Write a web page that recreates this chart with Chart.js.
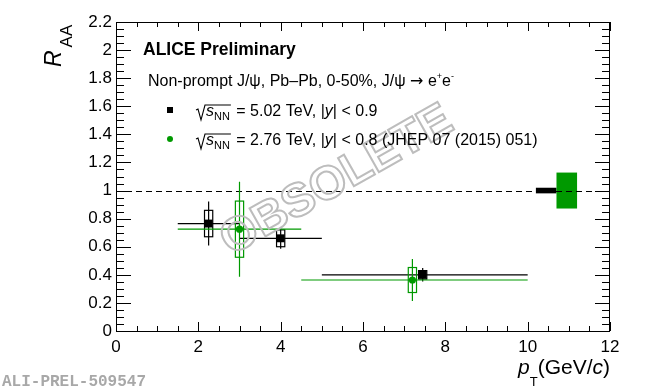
<!DOCTYPE html>
<html>
<head>
<meta charset="utf-8">
<script src="https://cdn.jsdelivr.net/npm/chart.js@4.4.1/dist/chart.umd.min.js"></script>
<style>
  body { margin: 0; background: #fff; }
  #c { display: block; }
</style>
</head>
<body>
<canvas id="c" width="650" height="389"></canvas>
<script>
// 5.02 TeV points (black)
const ptNew = [2.25, 4.0, 7.45];
const ptNewLow = [1.5, 3.0, 5.0];
const ptNewHigh = [3.0, 5.0, 10.0];
const raaNew = [0.765, 0.66, 0.40];
const statNew = [0.157, 0.075, 0.048];
const systNew = [0.094, 0.06, 0.03];

// 2.76 TeV points (green)
const ptOld = [3.0, 7.2];
const ptOldLow = [1.5, 4.5];
const ptOldHigh = [4.5, 10.0];
const raaOld = [0.725, 0.363];
const statOld = [0.338, 0.15];
const systOld = [0.2, 0.089];

// global uncertainties at R_AA = 1
const globalNew = 0.02;
const globalOld = 0.128;

const xRange = [0, 12];
const yRange = [0, 2.2];

const GREEN = '#009900';
const FONT = '"Liberation Sans", Arial, sans-serif';

function textRuns(ctx, x, y, parts) {
  parts.forEach((p) => {
    ctx.font = p.f;
    ctx.fillText(p.t, x + (p.dx || 0), y + (p.dy || 0));
    x += ctx.measureText(p.t).width + (p.dx || 0);
  });
  return x;
}

function runsWidth(ctx, parts) {
  let w = 0;
  parts.forEach((p) => {
    ctx.font = p.f;
    w += ctx.measureText(p.t).width + (p.dx || 0);
  });
  return w;
}

// error bars, boxes, frame, ticks, texts
const rootStyle = {
  id: 'rootStyle',
  beforeDatasetsDraw(chart) {
    const ctx = chart.ctx;
    const xs = chart.scales.x;
    const ys = chart.scales.y;
    const area = chart.chartArea;
    const px = (v) => xs.getPixelForValue(v);
    const py = (v) => ys.getPixelForValue(v);

    ctx.save();
    // global uncertainty boxes
    ctx.fillStyle = '#000';
    ctx.fillRect(px(10.2), py(1 + globalNew), px(10.7) - px(10.2), py(1 - globalNew) - py(1 + globalNew));
    ctx.fillStyle = GREEN;
    ctx.fillRect(px(10.7), py(1 + globalOld), px(11.2) - px(10.7), py(1 - globalOld) - py(1 + globalOld));

    // dashed line at 1
    ctx.strokeStyle = '#000';
    ctx.lineWidth = 1;
    ctx.setLineDash([6, 4]);
    ctx.beginPath();
    ctx.moveTo(area.left, Math.round(py(1)) + 0.5);
    ctx.lineTo(area.right, Math.round(py(1)) + 0.5);
    ctx.stroke();
    ctx.setLineDash([]);

    function drawSeries(pt, lo, hi, raa, stat, syst, color) {
      ctx.strokeStyle = color;
      ctx.lineWidth = 1.2;
      pt.forEach((x, i) => {
        const y = raa[i];
        ctx.beginPath();
        ctx.moveTo(px(lo[i]), py(y));
        ctx.lineTo(px(hi[i]), py(y));
        ctx.moveTo(px(x), py(y - stat[i]));
        ctx.lineTo(px(x), py(y + stat[i]));
        ctx.stroke();
        ctx.strokeRect(px(x - 0.1), py(y + syst[i]), px(x + 0.1) - px(x - 0.1), py(y - syst[i]) - py(y + syst[i]));
      });
    }
    drawSeries(ptNew, ptNewLow, ptNewHigh, raaNew, statNew, systNew, '#000');
    drawSeries(ptOld, ptOldLow, ptOldHigh, raaOld, statOld, systOld, GREEN);
    ctx.restore();
  },
  afterDraw(chart) {
    const ctx = chart.ctx;
    const xs = chart.scales.x;
    const ys = chart.scales.y;
    const a = chart.chartArea;
    ctx.save();

    // frame
    ctx.strokeStyle = '#000';
    ctx.lineWidth = 1;
    ctx.strokeRect(Math.round(a.left) + 0.5, Math.round(a.top) + 0.5, Math.round(a.right - a.left) - 1, Math.round(a.bottom - a.top));

    // ticks on four sides
    ctx.beginPath();
    for (let i = 0; i <= 24; i++) {
      const x = Math.round(xs.getPixelForValue(i * 0.5)) + 0.5;
      const len = i % 4 === 0 ? 9 : 5;
      ctx.moveTo(x, a.bottom);
      ctx.lineTo(x, a.bottom - len);
      ctx.moveTo(x, a.top);
      ctx.lineTo(x, a.top + len);
    }
    for (let i = 0; i <= 44; i++) {
      const y = Math.round(ys.getPixelForValue(i * 0.05)) + 0.5;
      const len = i % 4 === 0 ? 15 : 8;
      ctx.moveTo(a.left, y);
      ctx.lineTo(a.left + len, y);
      ctx.moveTo(a.right, y);
      ctx.lineTo(a.right - len, y);
    }
    ctx.stroke();

    // watermark
    ctx.save();
    ctx.translate(337, 181);
    ctx.rotate(-29.5 * Math.PI / 180);
    ctx.font = 'bold 47px ' + FONT;
    ctx.textAlign = 'center';
    ctx.textBaseline = 'middle';
    ctx.strokeStyle = '#bdbdbd';
    ctx.lineWidth = 2;
    ctx.strokeText('OBSOLETE', 0, 0);
    ctx.restore();

    ctx.fillStyle = '#000';
    ctx.textAlign = 'left';
    ctx.textBaseline = 'alphabetic';

    // header texts
    ctx.font = 'bold 17.5px ' + FONT;
    ctx.fillText('ALICE Preliminary', 143, 55);
    textRuns(ctx, 148, 86, [
      { t: 'Non-prompt J/\u03c8, Pb\u2013Pb, 0-50%, J/\u03c8 ', f: '16px ' + FONT },
      { t: '\u2192', f: '16px "DejaVu Sans", sans-serif' },
      { t: ' e', f: '16px ' + FONT },
      { t: '+', f: '9px ' + FONT, dy: -7 },
      { t: 'e', f: '16px ' + FONT },
      { t: '-', f: '9px ' + FONT, dy: -7 },
    ]);

    // legend
    ctx.fillRect(167, 107, 6, 6);
    ctx.fillStyle = GREEN;
    ctx.beginPath();
    ctx.arc(170, 139, 3, 0, 2 * Math.PI);
    ctx.fill();
    ctx.fillStyle = '#000';

    function legendRow(base, rest) {
      ctx.strokeStyle = '#000';
      ctx.lineWidth = 1.1;
      ctx.beginPath();
      ctx.moveTo(196, base - 6);
      ctx.lineTo(198, base - 7);
      ctx.lineTo(201, base + 4);
      ctx.lineTo(205, base - 11);
      const end = textRuns(ctx, 206, base, [
        { t: 's', f: 'italic 16px ' + FONT },
        { t: 'NN', f: '11px ' + FONT, dy: 4 },
      ]);
      ctx.lineTo(end + 1, base - 11);
      ctx.stroke();
      textRuns(ctx, end + 2, base, rest);
    }
    legendRow(116, [
      { t: ' = 5.02 TeV, |', f: '16px ' + FONT },
      { t: 'y', f: 'italic 16px ' + FONT },
      { t: '| < 0.9', f: '16px ' + FONT },
    ]);
    legendRow(145, [
      { t: ' = 2.76 TeV, |', f: '16px ' + FONT },
      { t: 'y', f: 'italic 16px ' + FONT },
      { t: '| < 0.8 (JHEP 07 (2015) 051)', f: '16px ' + FONT },
    ]);

    // axis titles
    ctx.save();
    ctx.translate(61, 67);
    ctx.rotate(-Math.PI / 2);
    textRuns(ctx, 0, 0, [
      { t: 'R', f: 'italic 23px ' + FONT },
      { t: 'AA', f: '17px ' + FONT, dy: 11, dx: 3 },
    ]);
    ctx.restore();

    const xTitle = [
      { t: 'p', f: 'italic 21px ' + FONT },
      { t: 'T', f: '13px ' + FONT, dy: 12 },
      { t: '(GeV/', f: '21px ' + FONT },
      { t: 'c', f: 'italic 21px ' + FONT },
      { t: ')', f: '21px ' + FONT },
    ];
    textRuns(ctx, a.right - runsWidth(ctx, xTitle), 374, xTitle);

    // plot id
    ctx.fillStyle = '#a8a8a8';
    ctx.font = 'bold 16px "Liberation Mono", monospace';
    ctx.fillText('ALI-PREL-509547', 2, 386);
    ctx.restore();
  },
};

const ctx = document.getElementById('c').getContext('2d');
new Chart(ctx, {
  type: 'scatter',
  data: {
    datasets: [
      {
        data: ptNew.map((x, i) => ({ x: x, y: raaNew[i] })),
        pointStyle: 'rect',
        pointRadius: 5.6,
        backgroundColor: '#000',
        borderWidth: 0,
      },
      {
        data: ptOld.map((x, i) => ({ x: x, y: raaOld[i] })),
        pointStyle: 'circle',
        pointRadius: 3.6,
        backgroundColor: GREEN,
        borderWidth: 0,
      },
    ],
  },
  options: {
    responsive: false,
    animation: false,
    layout: { padding: { top: 22, right: 40, left: 0, bottom: 0 } },
    plugins: { legend: { display: false }, tooltip: { enabled: false } },
    scales: {
      x: {
        min: xRange[0],
        max: xRange[1],
        afterFit: (s) => { s.height = 58; },
        grid: { display: false, drawTicks: false },
        border: { display: false },
        ticks: { stepSize: 2, padding: 6, color: '#000', font: { family: FONT, size: 17 } },
      },
      y: {
        min: yRange[0],
        max: yRange[1],
        afterFit: (s) => { s.width = 116; },
        grid: { display: false, drawTicks: false },
        border: { display: false },
        ticks: {
          stepSize: 0.2,
          padding: 4,
          color: '#000',
          font: { family: FONT, size: 17 },
          callback: (v) => String(+v.toFixed(1)),
        },
      },
    },
  },
  plugins: [rootStyle],
});
</script>
</body>
</html>
